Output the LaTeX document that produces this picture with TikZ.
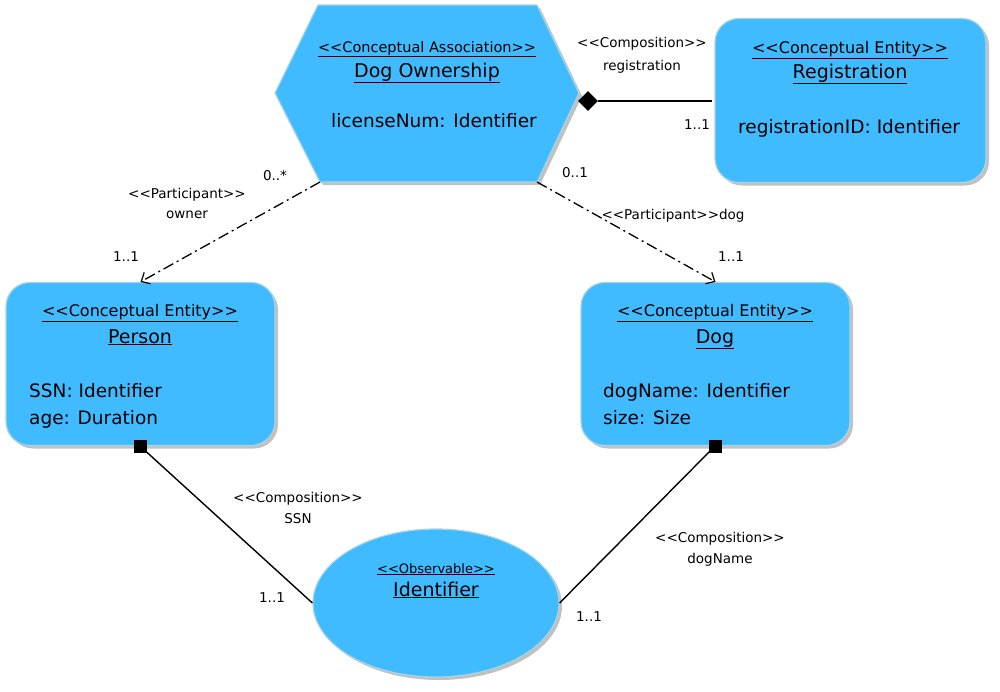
\documentclass[tikz,border=0pt]{standalone}
\usepackage{fontspec}
\setmainfont{DejaVu Sans}[Ligatures=TeXOff]
\usetikzlibrary{arrows.meta,shapes.geometric,shadows}
\definecolor{entfill}{RGB}{64,187,255}
\definecolor{entline}{RGB}{165,212,226}
\begin{document}
\begin{tikzpicture}[x=1pt,y=-1pt,
  shad/.style={drop shadow={shadow xshift=3pt,shadow yshift=-3pt,opacity=0.35,fill=black!70}},
  ent/.style={draw=entline,line width=1.2pt,fill=entfill,rounded corners=24pt,shad,inner sep=0pt},
  stereo/.style={anchor=base,inner sep=0pt,font=\fontsize{16}{18}\selectfont},
  ttl/.style={anchor=base,inner sep=0pt,font=\fontsize{19}{22}\selectfont},
  attr/.style={anchor=base west,inner sep=0pt,font=\fontsize{18.5}{22}\selectfont},
  lbl/.style={anchor=base,inner sep=0pt,font=\fontsize{13.5}{16}\selectfont},
  dd/.style={line width=1.3pt,dash pattern=on 11pt off 4pt on 2pt off 4pt,-{Straight Barb[length=7pt,width=13pt,line width=1.2pt]}},
  comp/.style={line width=1.4pt}
]
\useasboundingbox (0,0) rectangle (1000,691);

% ---- hexagon: Dog Ownership
\coordinate (htl) at (318,5);
\coordinate (htr) at (537,5);
\coordinate (hr) at (579,93);
\coordinate (hbr) at (537,182);
\coordinate (hbl) at (320,182);
\coordinate (hl) at (275,93);
\fill[draw=entline,line width=1.2pt,fill=entfill,shad] (htl) -- (htr) -- (hr) -- (hbr) -- (hbl) -- (hl) -- cycle;
\node[stereo,font=\fontsize{14.5}{17}\selectfont] (own-st) at (427,52) {\underline{<<Conceptual Association>>}};
\node[ttl] (own-t) at (427,77) {\underline{Dog Ownership}};
\node[attr] (own-a) at (331,127) {licenseNum: Identifier};

% ---- Registration
\node[ent,minimum width=271pt,minimum height=164pt] (reg) at (850.5,100.5) {};
\node[stereo] (reg-st) at (850,53) {\underline{<<Conceptual Entity>>}};
\node[ttl] (reg-t) at (850,78) {\underline{Registration}};
\node[attr] (reg-a) at (738,133) {registrationID: Identifier};

% ---- Person
\node[ent,minimum width=269pt,minimum height=163pt] (person) at (140.5,364) {};
\node[stereo] (per-st) at (140,316) {\underline{<<Conceptual Entity>>}};
\node[ttl] (per-t) at (140,343) {\underline{Person}};
\node[attr] (per-a1) at (29,397) {SSN: Identifier};
\node[attr] (per-a2) at (29,424) {age: Duration};

% ---- Dog
\node[ent,minimum width=269pt,minimum height=163pt] (dog) at (715.5,364) {};
\node[stereo] (dog-st) at (715,316) {\underline{<<Conceptual Entity>>}};
\node[ttl] (dog-t) at (715,343) {\underline{Dog}};
\node[attr] (dog-a1) at (603,397) {dogName: Identifier};
\node[attr] (dog-a2) at (603,424) {size: Size};

% ---- Identifier
\node[ellipse,draw=entline,line width=1.2pt,fill=entfill,shad,minimum width=246pt,minimum height=148pt,inner sep=0pt] (ident) at (436,603) {};
\node[stereo,font=\fontsize{13}{15}\selectfont] (id-st) at (436,573) {\underline{<<Observable>>}};
\node[ttl] (id-t) at (436,596) {\underline{Identifier}};

% ---- connectors
% composition registration
\node[diamond,fill=black,inner sep=0pt,minimum width=20pt,minimum height=20pt] (dia) at (588,101) {};
\coordinate (regin) at (712,101);
\draw[comp] (dia.east) -- (regin);
\node[lbl] (l1) at (642,47) {<<Composition>>};
\node[lbl] (l2) at (642,70) {registration};
\node[lbl] (m1) at (697,129) {1..1};

% participant owner
\draw[dd] (hbl) -- (person.north);
\node[lbl] (l3) at (187,198) {<<Participant>>};
\node[lbl] (l4) at (187,218) {owner};
\node[lbl] (m2) at (275,180) {0..*};
\node[lbl] (m3) at (126,261) {1..1};

% participant dog
\draw[dd] (hbr) -- (dog.north);
\node[lbl] (l5) at (673,219) {<<Participant>>dog};
\node[lbl] (m4) at (575,177) {0..1};
\node[lbl] (m5) at (731,261) {1..1};

% composition SSN
\node[fill=black,inner sep=0pt,minimum size=13pt] (sq1) at (140,446) {};
\draw[comp] (sq1.center) -- (ident.west);
\node[lbl] (l6) at (298,502) {<<Composition>>};
\node[lbl] (l7) at (298,523) {SSN};
\node[lbl] (m6) at (272,602) {1..1};

% composition dogName
\node[fill=black,inner sep=0pt,minimum size=13pt] (sq2) at (715,446) {};
\draw[comp] (sq2.center) -- (ident.east);
\node[lbl] (l8) at (720,542) {<<Composition>>};
\node[lbl] (l9) at (720,563) {dogName};
\node[lbl] (m7) at (589,621) {1..1};
\end{tikzpicture}
\end{document}
